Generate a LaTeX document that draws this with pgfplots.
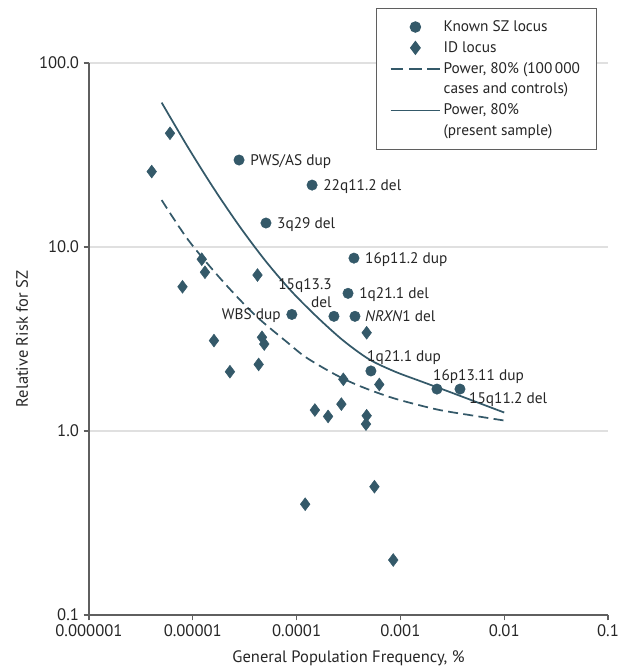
\documentclass[border=0pt]{standalone}
\usepackage{fontspec}
\setmainfont{PT Sans}
\usepackage{pgfplots}
\pgfplotsset{compat=1.18}
\definecolor{jteal}{RGB}{52,89,105}
\definecolor{gridg}{RGB}{224,224,224}
\definecolor{axg}{RGB}{95,95,95}
\begin{document}
\begin{tikzpicture}
\begin{axis}[
  scale only axis, width=389.25pt, height=414pt,
  xmode=log, ymode=log, xmin=1e-6, xmax=0.1, ymin=0.1, ymax=100,
  axis lines=left, axis line style={-, draw=axg, line width=0.8pt},
  xtick={1e-6,1e-5,1e-4,1e-3,1e-2,1e-1},
  xticklabels={0.000001,0.00001,0.0001,0.001,0.01,0.1},
  ytick={0.1,1,10,100}, yticklabels={0.1,1.0,10.0,100.0},
  xminorticks=false, yminorticks=false,
  tick align=outside, major tick length=4pt,
  tick style={draw=axg, line width=0.8pt},
  ymajorgrids, grid style={draw=gridg, line width=0.8pt},
  tick label style={font=\fontsize{12.5}{14}\selectfont, text=black!85},
  xlabel={General Population Frequency, \%}, ylabel={Relative Risk for SZ},
  every axis x label/.style={at={(axis description cs:0.5,-0.078)}, anchor=center, font=\fontsize{12.4}{14}\selectfont, text=black!85},
  every axis y label/.style={at={(axis description cs:-0.129,0.5)}, rotate=90, anchor=center, font=\fontsize{12.4}{14}\selectfont, text=black!85},
  clip=false,
  legend style={at={(0.553,1.0996)}, anchor=north west, draw=axg, line width=0.8pt,
    font=\fontsize{11.5}{15.5}\selectfont, text=black!85, cells={align=left, anchor=west},
    inner xsep=10pt, inner ysep=7pt, row sep=2pt},
  legend cell align=left,
  legend image code/.code={\draw[mark repeat=2,mark phase=2,#1] plot coordinates {(0pt,0pt) (18.5pt,0pt) (37pt,0pt)};},
]
\addplot[only marks, mark=*, mark size=3.9pt, color=jteal] coordinates {
(2.79e-5,29.7) (1.41e-4,21.7) (5.07e-5,13.5) (3.57e-4,8.7) (3.13e-4,5.6)
(2.29e-4,4.2) (3.65e-4,4.2) (9.0e-5,4.3) (5.2e-4,2.12) (2.25e-3,1.69) (3.75e-3,1.69)
};
\addlegendentry{Known SZ locus}
\addplot[only marks, mark=diamond*, mark size=4.8pt, color=jteal] coordinates {
(6.03e-6,41.5) (4.02e-6,25.7) (1.22e-5,8.58) (1.31e-5,7.29) (7.96e-6,6.08)
(4.20e-5,7.04) (1.60e-5,3.10) (4.64e-5,3.23) (4.88e-5,2.97) (2.28e-5,2.10)
(4.31e-5,2.30) (4.73e-4,3.42) (2.82e-4,1.91) (6.26e-4,1.79) (1.50e-4,1.30)
(2.01e-4,1.20) (2.70e-4,1.40) (4.73e-4,1.21) (4.66e-4,1.09) (1.21e-4,0.40)
(5.62e-4,0.498) (8.53e-4,0.199)
};
\addlegendentry{ID locus}
\addplot[jteal, line width=1.3pt, dash pattern=on 7.5pt off 4pt, smooth,
  legend image post style={yshift=7.75pt, dash pattern=on 9.5pt off 4.25pt}] coordinates {
(5.01e-6,18.0) (9.06e-6,10.9) (1.90e-5,6.61) (3.97e-5,4.27) (8.32e-5,3.00)
(1.21e-4,2.53) (2.10e-4,2.10) (3.27e-4,1.85) (5.09e-4,1.67) (9.2e-4,1.49)
(2.24e-3,1.31) (4.69e-3,1.22) (1e-2,1.14)
};
\addlegendentry{Power, 80\% (100\,000\\cases and controls)}
\addplot[jteal, line width=1.3pt, smooth,
  legend image post style={yshift=7.75pt}] coordinates {
(5.01e-6,60.95) (8.91e-6,35.1) (1.585e-5,20.9) (2.818e-5,12.96) (5.01e-5,8.41)
(8.91e-5,5.75) (1.585e-4,4.15) (2.818e-4,3.10) (5.01e-4,2.45) (8.91e-4,2.10)
(1.585e-3,1.86) (2.818e-3,1.65) (5.01e-3,1.46) (1e-2,1.26)
};
\addlegendentry{Power, 80\%\\(present sample)}
\tikzset{lab/.style={inner sep=0pt, font=\fontsize{11.5}{13}\selectfont, text=black!85}}
\node[lab, anchor=base west, xshift=8.25pt, yshift=-4.1pt] at (axis cs:2.79e-5,29.7) {PWS/AS dup};
\node[lab, anchor=base west, xshift=8.25pt, yshift=-4.1pt] at (axis cs:1.41e-4,21.7) {22q11.2 del};
\node[lab, anchor=base west, xshift=8.25pt, yshift=-4.1pt] at (axis cs:5.07e-5,13.5) {3q29 del};
\node[lab, anchor=base west, xshift=8.25pt, yshift=-4.1pt] at (axis cs:3.57e-4,8.7) {16p11.2 dup};
\node[lab, anchor=base west, xshift=8.25pt, yshift=-4.1pt] at (axis cs:3.13e-4,5.6) {1q21.1 del};
\node[lab, anchor=base west, xshift=7.5pt, yshift=-4.1pt] at (axis cs:3.65e-4,4.2) {\textit{NRXN}1 del};
\node[lab, anchor=base east, xshift=-8.25pt, yshift=-4.1pt] at (axis cs:9.0e-5,4.3) {WBS dup};
\node[lab, anchor=base east, xshift=-1.5pt, yshift=19.9pt] at (axis cs:2.29e-4,4.2) {15q13.3};
\node[lab, anchor=base east, xshift=-1.5pt, yshift=6.4pt] at (axis cs:2.29e-4,4.2) {del};
\node[lab, anchor=base west, xshift=-3pt, yshift=7.2pt] at (axis cs:5.2e-4,2.12) {1q21.1 dup};
\node[lab, anchor=base west, xshift=-3pt, yshift=6.75pt] at (axis cs:2.25e-3,1.69) {16p13.11 dup};
\node[lab, anchor=base west, xshift=6.75pt, yshift=-10.5pt] at (axis cs:3.75e-3,1.69) {15q11.2 del};
\end{axis}
\pgfresetboundingbox
\path[use as bounding box] ([shift={(-66.75pt,-39.75pt)}]current axis.south west) rectangle ([shift={(13.5pt,47.25pt)}]current axis.north east);
\end{tikzpicture}
\end{document}
